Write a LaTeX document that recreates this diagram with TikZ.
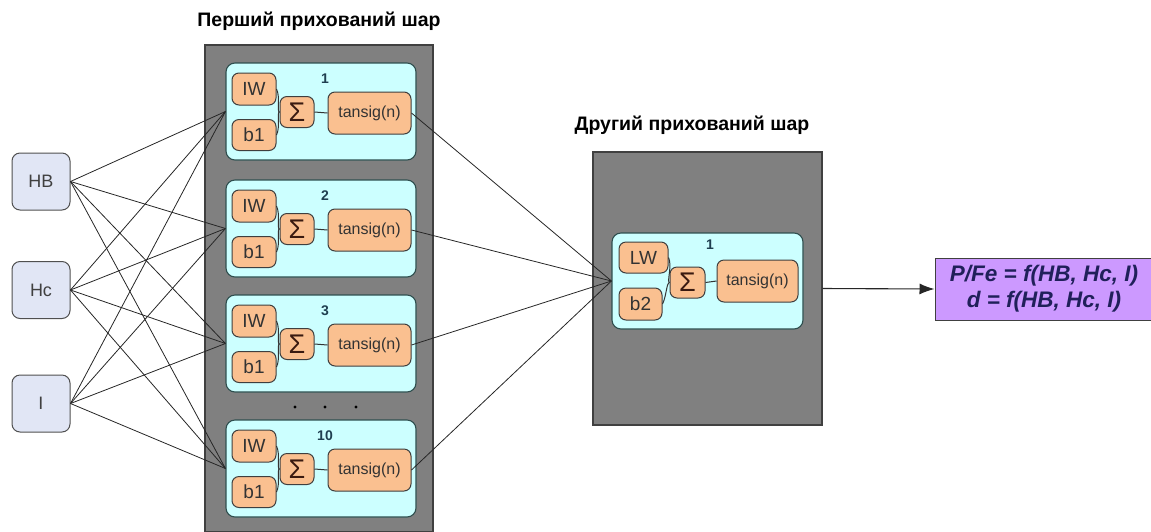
\documentclass[tikz,border=0pt]{standalone}
\usepackage{fontspec}
\setmainfont{Liberation Sans}
\usetikzlibrary{arrows.meta}
\definecolor{grayfill}{HTML}{808080}
\definecolor{grayline}{HTML}{404040}
\definecolor{cyanfill}{HTML}{CCFFFF}
\definecolor{cyanline}{HTML}{2F4F4F}
\definecolor{orfill}{HTML}{FAC090}
\definecolor{orline}{HTML}{3F3F3F}
\definecolor{inpfill}{HTML}{E1E6F5}
\definecolor{inpline}{HTML}{505050}
\definecolor{purpfill}{HTML}{CC99FF}
\definecolor{purptext}{HTML}{20205A}
\definecolor{numcol}{HTML}{1F3F50}
\definecolor{txtcol}{HTML}{333333}
\definecolor{sigcol}{HTML}{3A1A10}
\tikzset{
  layerbox/.style={draw=grayline, fill=grayfill, line width=1.3pt, inner sep=0pt},
  neuron/.style={draw=cyanline, fill=cyanfill, line width=1.1pt, rounded corners=9pt, inner sep=0pt},
  elem/.style={draw=orline, fill=orfill, line width=1pt, rounded corners=7pt, inner sep=0pt, text=txtcol},
  sumbox/.style={elem, text=sigcol, font=\fontsize{27}{27}\selectfont},
  inpbox/.style={draw=inpline, fill=inpfill, line width=1pt, rounded corners=8pt, inner sep=0pt, text=grayline, font=\fontsize{18}{20}\selectfont, minimum width=58pt, minimum height=57pt},
  title/.style={font=\bfseries\fontsize{19.5}{22}\selectfont, text=black},
  num/.style={font=\bfseries\fontsize{14}{15}\selectfont, text=numcol, inner sep=0pt},
  wire/.style={draw=black!85, line width=0.8pt},
  inwire/.style={draw=black!80, line width=1pt},
}
\begin{document}
\begin{tikzpicture}[x=1pt,y=-1pt]
\useasboundingbox (0,0) rectangle (1151,531);
% titles
\node[title] (t1) at (319,21) {Перший прихований шар};
\node[title] (t2) at (692,125) {Другий прихований шар};
% inputs
\node[inpbox] (HB) at (41,181.5) {HB};
\node[inpbox] (Hc) at (41,290) {Hc};
\node[inpbox] (I) at (41,403.5) {I};
% first layer
\node[layerbox, minimum width=228pt, minimum height=487pt] (L1) at (319,288.5) {};
\foreach \T/\lab/\nm in {63/1/a, 180/2/b, 295/3/c, 420/10/d}{
  \node[neuron, minimum width=190pt, minimum height=97pt] (n\nm) at (321,\T+48.5) {};
  \node[num] (num\nm) at (325,\T+16) {\lab};
  \node[elem, minimum width=44pt, minimum height=32pt, font=\fontsize{19}{20}\selectfont] (w\nm) at (254,\T+26) {IW};
  \node[elem, minimum width=44pt, minimum height=31pt, font=\fontsize{19}{20}\selectfont] (b\nm) at (254,\T+72) {b1};
  \node[sumbox, minimum width=34pt, minimum height=31pt] (s\nm) at (297,\T+49) {Σ};
  \node[elem, minimum width=83pt, minimum height=42pt, font=\fontsize{16}{17}\selectfont] (f\nm) at (369.5,\T+50) {tansig(n)};
  \draw[inwire] (w\nm.east) .. controls +(4,8) and +(-3,0) .. (s\nm.west);
  \draw[inwire] (b\nm.east) .. controls +(4,-8) and +(-3,0) .. (s\nm.west);
  \draw[inwire] (s\nm.east) -- (f\nm.west);
}
\foreach \dx/\nm in {295/p, 325/q, 356/r}
  \fill[black] (\dx,407) circle (1.6pt) coordinate (dot\nm);
% second layer
\node[layerbox, minimum width=229pt, minimum height=273pt] (L2) at (707.5,288.5) {};
\node[neuron, minimum width=191pt, minimum height=96pt] (n2) at (707.5,281) {};
\node[num] (num2) at (710,245) {1};
\node[elem, minimum width=49pt, minimum height=31pt, font=\fontsize{19}{20}\selectfont] (w2) at (643.5,257.5) {LW};
\node[elem, minimum width=43pt, minimum height=32pt, font=\fontsize{19}{20}\selectfont] (b2) at (640.5,304) {b2};
\node[sumbox, minimum width=35pt, minimum height=31pt] (s2) at (687.5,282.5) {Σ};
\node[elem, minimum width=81pt, minimum height=42pt, font=\fontsize{16}{17}\selectfont] (f2) at (757.5,281) {tansig(n)};
\draw[inwire] (w2.east) .. controls +(4,8) and +(-3,0) .. (s2.west);
\draw[inwire] (b2.east) .. controls +(4,-8) and +(-3,0) .. (s2.west);
\draw[inwire] (s2.east) -- (f2.west);
% output
\node[draw=grayline, fill=purpfill, line width=1pt, minimum width=218pt, minimum height=62pt, inner sep=0pt,
      font=\bfseries\itshape\fontsize{22.5}{26}\selectfont, text=purptext, align=center] (out) at (1044,289)
      {P/Fe = f(HB, Hc, I)\\d = f(HB, Hc, I)};
% input wires
\foreach \i in {HB,Hc,I}
  \foreach \nm in {a,b,c,d}
    \draw[wire] (\i.east) -- (n\nm.west);
% layer 1 -> layer 2
\foreach \nm in {a,b,c,d}
  \draw[wire] (f\nm.east) -- (n2.west);
\draw[wire, line width=1.1pt, -{Latex[length=15pt,width=11pt]}] (L2.east) -- (out.west);
\end{tikzpicture}
\end{document}
